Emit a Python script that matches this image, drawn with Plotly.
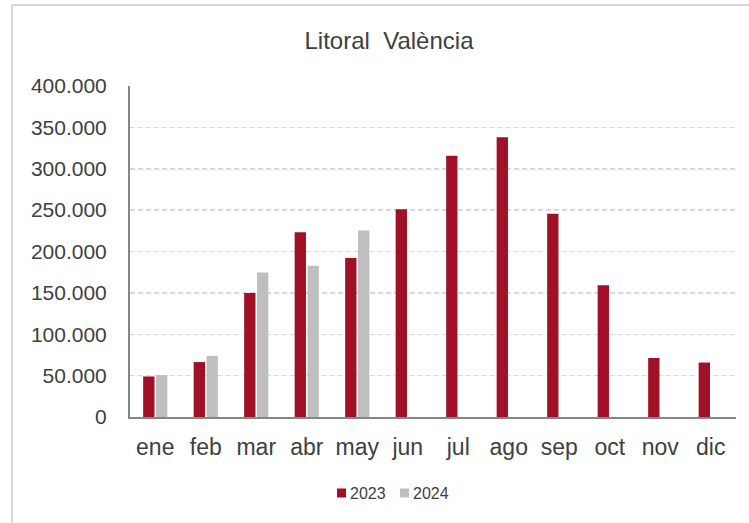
import plotly.graph_objects as go

months = ["ene", "feb", "mar", "abr", "may", "jun", "jul", "ago", "sep", "oct", "nov", "dic"]
v2023 = [49000, 66400, 149700, 223400, 192000, 251000, 315600, 338200, 245500, 159200, 71300, 65800]
v2024 = [50700, 74000, 174600, 182700, 225400, None, None, None, None, None, None, None]
y_ticks = [0, 50000, 100000, 150000, 200000, 250000, 300000, 350000, 400000]
series_names = ["2023", "2024"]
series_colors = ["#A01127", "#BFBFBF"]

W, H = 749, 523
L, R, T, B = 130, 13, 86, 106
pw, ph = W - L - R, H - T - B


def px(sx):
    return (sx - L) / pw


def py(sy):
    return (T + ph - sy) / ph


fig = go.Figure()
for name, vals, col in zip(series_names, [v2023, v2024], series_colors):
    fig.add_trace(go.Bar(x=months, y=vals, name=name, marker=dict(color=col, line=dict(width=0)),
                         showlegend=False, hoverinfo="skip"))

# manual legend (compact, like the original)
legend_shapes = []
legend_ann = []
leg_y = 493
for i, (name, col) in enumerate(zip(series_names, series_colors)):
    x0 = 337 + i * 63
    legend_shapes.append(dict(type="rect", xref="paper", yref="paper",
                              x0=px(x0), x1=px(x0 + 9), y0=py(leg_y + 4.5), y1=py(leg_y - 4.5),
                              line=dict(width=0), fillcolor=col))
    legend_ann.append(dict(text=name, xref="paper", yref="paper", x=px(x0 + 11), y=py(leg_y),
                           xanchor="left", yanchor="middle", showarrow=False,
                           font=dict(size=16, color="#404040")))

frame = dict(type="rect", xref="paper", yref="paper",
             x0=px(12), x1=px(W + 20), y0=py(H + 20), y1=py(5),
             line=dict(color="#D9D9D9", width=2), fillcolor="rgba(0,0,0,0)", layer="below")

fig.update_layout(
    width=W, height=H,
    margin=dict(l=L, r=R, t=T, b=B),
    paper_bgcolor="white", plot_bgcolor="white",
    separators=",.",
    barmode="group", bargap=0.49, bargroupgap=0.12,
    font=dict(family="Liberation Sans, Arial, sans-serif", color="#404040"),
    title=dict(text="Litoral  València", x=389 / W, xanchor="center", xref="container",
               y=1 - 41 / H, yanchor="middle", yref="container",
               font=dict(size=24, color="#404040")),
    showlegend=False,
    xaxis=dict(showline=True, linecolor="#868686", linewidth=2, ticks="", showgrid=False,
               tickfont=dict(size=23, color="#404040"), ticklabelstandoff=8, fixedrange=True),
    yaxis=dict(range=[0, 400000], tickvals=y_ticks, tickformat=",d", showline=True,
               linecolor="#868686", linewidth=2, showgrid=True, gridcolor="#D9D9D9",
               gridwidth=1.5, griddash="5px,3px", zeroline=False, ticks="",
               tickfont=dict(size=21, color="#404040"), ticklabelstandoff=17, fixedrange=True),
    shapes=[frame] + legend_shapes,
    annotations=legend_ann,
)

fig.write_html("out.html", config={"displayModeBar": False, "staticPlot": True},
               post_script="document.body.style.margin='0';document.body.style.overflow='hidden';")
